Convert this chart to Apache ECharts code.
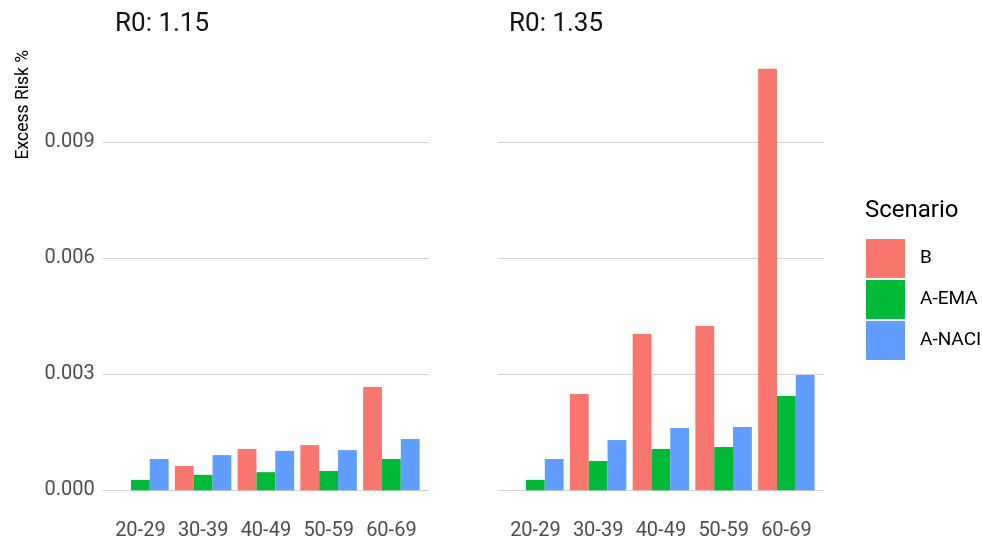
<!DOCTYPE html>
<html>
<head>
<meta charset="utf-8">
<script src="https://cdn.jsdelivr.net/npm/echarts@6/dist/echarts.min.js"></script>
<style>html,body{margin:0;padding:0;background:#fff;}#c{width:982px;height:538px;}</style>
</head>
<body>
<div id="c"></div>
<script>
const categories = ['20-29', '30-39', '40-49', '50-59', '60-69'];
const scenarios = ['B', 'A-EMA', 'A-NACI'];
const panelTitles = ['R0: 1.15', 'R0: 1.35'];
const b115 = [0, 0.00063, 0.00107, 0.00117, 0.00267];
const ema115 = [0.00027, 0.0004, 0.00047, 0.0005, 0.00081];
const naci115 = [0.00081, 0.00091, 0.00102, 0.00104, 0.00133];
const b135 = [0, 0.00249, 0.00404, 0.00425, 0.0109];
const ema135 = [0.00027, 0.00076, 0.00107, 0.00112, 0.00244];
const naci135 = [0.00081, 0.0013, 0.00161, 0.00164, 0.00298];

const colors = ['#F8766D', '#00BA38', '#619CFF'];
const FONT = 'Roboto';
const yMin = 0, yMax = 0.012, yInt = 0.003;
const gridTop = 26.33, gridBottom = 538 - 490.33;
const panels = [
  { wideLeft: 102.7, narrowLeft: 109, data: [b115, ema115, naci115], showLabels: true },
  { wideLeft: 497.7, narrowLeft: 504, data: [b135, ema135, naci135], showLabels: false }
];
const wideW = 326.3, narrowW = 313.75;

const grid = [], xAxis = [], yAxis = [], series = [];
panels.forEach((p, i) => {
  grid.push({ left: p.wideLeft, width: wideW, top: gridTop, bottom: gridBottom, outerBoundsMode: 'none', containLabel: false });
  grid.push({ left: p.narrowLeft, width: narrowW, top: gridTop, bottom: gridBottom, outerBoundsMode: 'none', containLabel: false });
  const wi = 2 * i, ni = 2 * i + 1;
  xAxis.push({ type: 'value', gridIndex: wi, min: 0, max: 1, show: false });
  xAxis.push({
    type: 'category', gridIndex: ni, data: categories,
    axisLine: { show: false }, axisTick: { show: false }, splitLine: { show: false },
    axisLabel: { interval: 0, hideOverlap: false, color: '#4D4D4D', fontFamily: FONT, fontSize: 20, margin: 31 }
  });
  yAxis.push({
    type: 'value', gridIndex: wi, min: yMin, max: yMax, interval: yInt,
    axisLine: { show: false }, axisTick: { show: false },
    splitLine: { show: true, showMaxLine: false, lineStyle: { color: '#d4d4d4', width: 1 } },
    axisLabel: {
      show: p.showLabels, showMaxLabel: false, color: '#4D4D4D', fontFamily: FONT, fontSize: 20, margin: 8,
      formatter: v => v.toFixed(3)
    }
  });
  yAxis.push({ type: 'value', gridIndex: ni, min: yMin, max: yMax, interval: yInt, show: false, splitLine: { show: false } });
  scenarios.forEach((s, k) => {
    series.push({
      name: s, type: 'bar', xAxisIndex: ni, yAxisIndex: ni,
      data: p.data[k], barGap: '0%', barCategoryGap: '10%',
      itemStyle: { color: colors[k] }
    });
  });
});

const chart = echarts.init(document.getElementById('c'), null, { renderer: 'canvas' });
chart.setOption({
  animation: false,
  backgroundColor: '#ffffff',
  color: colors,
  grid, xAxis, yAxis, series,
  legend: {
    data: scenarios, orient: 'vertical', left: 866, top: 239, padding: 0,
    itemWidth: 39, itemHeight: 39, itemGap: 2, icon: 'rect',
    textStyle: { fontFamily: FONT, fontSize: 19, color: '#000', padding: [0, 0, 0, 10] }
  },
  graphic: [
    { type: 'text', left: 115, top: 11, style: { text: panelTitles[0], fontFamily: FONT, fontSize: 26, fill: '#111' } },
    { type: 'text', left: 509, top: 11, style: { text: panelTitles[1], fontFamily: FONT, fontSize: 26, fill: '#111' } },
    { type: 'text', left: 865, top: 199, style: { text: 'Scenario', fontFamily: FONT, fontSize: 24, fill: '#000' } },
    { type: 'text', x: 24, y: 50, rotation: Math.PI / 2,
      style: { text: 'Excess Risk %', fontFamily: FONT, fontSize: 17.5, fill: '#000', align: 'right', verticalAlign: 'middle' } }
  ]
});
</script>
</body>
</html>
